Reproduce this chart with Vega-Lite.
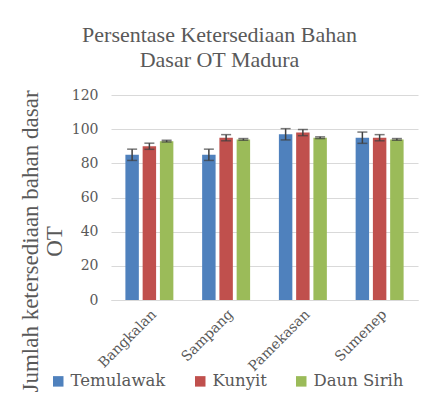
{
  "$schema": "https://vega.github.io/schema/vega-lite/v6.json",
  "autosize": {"type": "none"},
  "width": 307,
  "height": 205,
  "padding": {"left": 111, "top": 95, "right": 5, "bottom": 106},
  "background": "white",
  "config": {
    "font": "Liberation Serif",
    "view": {"stroke": null},
    "axis": {
      "labelFont": "DejaVu Serif",
      "labelFontSize": 14,
      "labelColor": "#595959",
      "titleFont": "Liberation Serif",
      "titleFontWeight": "normal",
      "titleColor": "#595959",
      "ticks": false
    },
    "axisY": {
      "values": [0, 20, 40, 60, 80, 100, 120],
      "labelOverlap": false,
      "titleFontSize": 23,
      "titleAngle": -90,
      "titleAlign": "center",
      "titleBaseline": "middle",
      "titleLineHeight": 24,
      "titleX": -81,
      "titleY": 146,
      "labelPadding": 13,
      "domain": false,
      "grid": true,
      "gridColor": "#d9d9d9",
      "gridWidth": 1
    },
    "legend": {
      "labelFont": "DejaVu Serif",
      "labelFontSize": 16.5,
      "labelColor": "#595959"
    }
  },
  "title": {
    "text": ["Persentase Ketersediaan Bahan", "Dasar OT Madura"],
    "font": "Liberation Serif",
    "fontSize": 22,
    "fontWeight": "normal",
    "color": "#595959",
    "anchor": "middle",
    "frame": "group",
    "dx": -45,
    "offset": 16,
    "lineHeight": 25
  },
  "data": {
    "values": [
      {"district": "Bangkalan", "species": "Temulawak", "value": 85, "lo": 81.7, "hi": 88.3},
      {"district": "Bangkalan", "species": "Kunyit", "value": 90, "lo": 88.2, "hi": 91.8},
      {"district": "Bangkalan", "species": "Daun Sirih", "value": 93, "lo": 92.5, "hi": 93.5},
      {"district": "Sampang", "species": "Temulawak", "value": 85, "lo": 81.7, "hi": 88.3},
      {"district": "Sampang", "species": "Kunyit", "value": 95, "lo": 93.2, "hi": 96.8},
      {"district": "Sampang", "species": "Daun Sirih", "value": 94, "lo": 93.5, "hi": 94.5},
      {"district": "Pamekasan", "species": "Temulawak", "value": 97, "lo": 93.7, "hi": 100.3},
      {"district": "Pamekasan", "species": "Kunyit", "value": 98, "lo": 96.2, "hi": 99.8},
      {"district": "Pamekasan", "species": "Daun Sirih", "value": 95, "lo": 94.5, "hi": 95.5},
      {"district": "Sumenep", "species": "Temulawak", "value": 95, "lo": 91.7, "hi": 98.3},
      {"district": "Sumenep", "species": "Kunyit", "value": 95, "lo": 93.2, "hi": 96.8},
      {"district": "Sumenep", "species": "Daun Sirih", "value": 94, "lo": 93.5, "hi": 94.5}
    ]
  },
  "encoding": {
    "x": {
      "field": "district",
      "type": "nominal",
      "sort": ["Bangkalan", "Sampang", "Pamekasan", "Sumenep"],
      "scale": {"paddingInner": 0.375, "paddingOuter": 0.1875},
      "axis": {
        "title": null,
        "labelAngle": -45,
        "labelPadding": 7,
        "domainColor": "#d9d9d9",
        "domainWidth": 1,
        "grid": false
      }
    },
    "xOffset": {
      "field": "species",
      "type": "nominal",
      "sort": ["Temulawak", "Kunyit", "Daun Sirih"],
      "scale": {"paddingInner": 0.22, "paddingOuter": 0}
    }
  },
  "layer": [
    {
      "mark": {"type": "bar"},
      "encoding": {
        "y": {
          "field": "value",
          "type": "quantitative",
          "scale": {"domain": [0, 120]},
          "title": ["Jumlah ketersediaan bahan dasar", "OT"]
        },
        "color": {
          "field": "species",
          "type": "nominal",
          "sort": ["Temulawak", "Kunyit", "Daun Sirih"],
          "scale": {"domain": ["Temulawak", "Kunyit", "Daun Sirih"], "range": ["#4f81bd", "#c0504d", "#9bbb59"]},
          "legend": {
            "title": null,
            "orient": "none",
            "direction": "horizontal",
            "legendX": -61,
            "legendY": 278,
            "symbolType": "square",
            "symbolSize": 110,
            "symbolStrokeWidth": 0,
            "symbolOpacity": 1,
            "labelOffset": 4,
            "columnPadding": 26
          }
        }
      }
    },
    {
      "mark": {"type": "rule", "color": "#404040", "strokeWidth": 1.5},
      "encoding": {
        "y": {"field": "lo", "type": "quantitative"},
        "y2": {"field": "hi"}
      }
    },
    {
      "mark": {"type": "tick", "color": "#404040", "thickness": 1.5, "size": 10, "orient": "horizontal"},
      "encoding": {"y": {"field": "lo", "type": "quantitative"}}
    },
    {
      "mark": {"type": "tick", "color": "#404040", "thickness": 1.5, "size": 10, "orient": "horizontal"},
      "encoding": {"y": {"field": "hi", "type": "quantitative"}}
    }
  ]
}
